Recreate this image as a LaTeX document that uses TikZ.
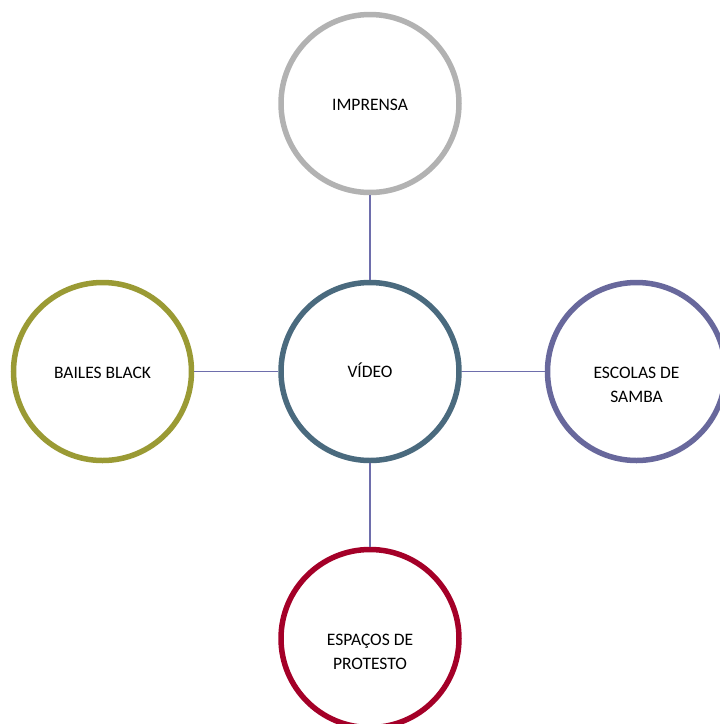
\documentclass[tikz,border=0pt]{standalone}
\usepackage{fontspec}
\setmainfont{Carlito}
\usepackage{tikz}

\definecolor{grayring}{RGB}{178,178,178}
\definecolor{tealring}{RGB}{74,106,126}
\definecolor{olivering}{RGB}{154,154,52}
\definecolor{purplering}{RGB}{104,104,156}
\definecolor{redring}{RGB}{164,0,40}
\definecolor{linkcol}{RGB}{110,110,172}

\tikzset{
  bubble/.style={circle, draw, fill=white, line width=5.5pt, minimum size=178pt, inner sep=0pt},
  ringtext/.style={align=center, font=\fontsize{17.5}{24}\selectfont, text=black},
  link/.style={draw=linkcol, line width=1.5pt}
}

\begin{document}
\begin{tikzpicture}[x=1pt, y=-1pt]
        \clip (0,0) rectangle (720,724);
        \useasboundingbox (0,0) rectangle (720,724);
        % the five rings
        \node[bubble, draw=tealring,
              label={[ringtext, yshift=1.5pt]center:VÍDEO}] (video) at (370,371.5) {};
        \node[bubble, draw=grayring,
              label={[ringtext, yshift=-1.5pt]center:IMPRENSA}] (imprensa) at (370,103.5) {};
        \node[bubble, draw=olivering,
              label={[ringtext, yshift=-1.5pt]center:BAILES BLACK}] (bailes) at (102.5,371.5) {};
        \node[bubble, draw=purplering,
              label={[ringtext, yshift=-13pt]center:{ESCOLAS DE\\SAMBA}}] (escolas) at (636.5,371.5) {};
        \node[bubble, draw=redring,
              label={[ringtext, yshift=-13pt]center:{ESPAÇOS DE\\PROTESTO}}] (espacos) at (370,638.5) {};
        % spokes
        \draw[link] (imprensa) -- (video);
        \draw[link] (bailes) -- (video);
        \draw[link] (video) -- (escolas);
        \draw[link] (video) -- (espacos);
\end{tikzpicture}
\end{document}
